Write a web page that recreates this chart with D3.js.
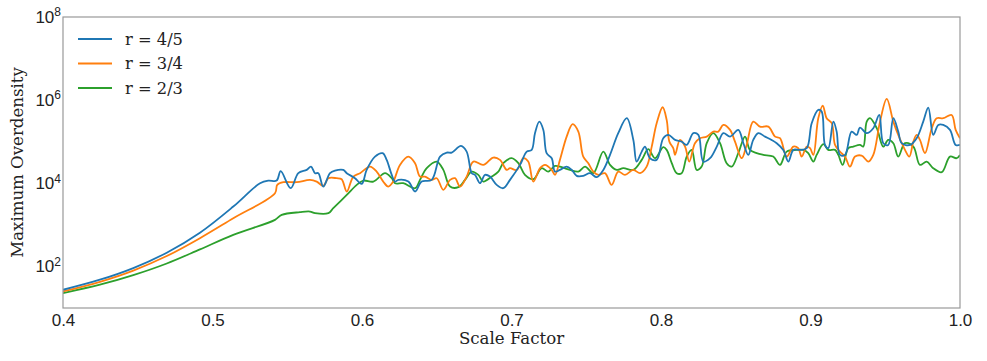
<!DOCTYPE html>
<html lang="en">
<head>
<meta charset="UTF-8" />
<title>Maximum Overdensity vs Scale Factor</title>
<script src="https://d3js.org/d3.v7.min.js"></script>
<style>
  body { margin: 0; background: #fff; }
  svg { font-family: "DejaVu Serif", serif; }
  .axis path { stroke: #999; }
  .axis text { font-size: 17px; fill: #222; }
  .line { fill: none; stroke-width: 1.8; }
  .legend text { font-size: 16.3px; fill: #222; }
</style>
</head>
<body>
<svg width="987" height="361"></svg>
<script>
// series labels and colours
const seriesNames = ["r = 4/5", "r = 3/4", "r = 2/3"];
const seriesColors = ["#1f77b4", "#ff7f0e", "#2ca02c"];

const xTicks = [0.4, 0.5, 0.6, 0.7, 0.8, 0.9, 1.0];
const yTicks = [1e2, 1e4, 1e6, 1e8];

// values: scale factor and log10(max overdensity)
const aBlue = [0.400,0.4247,0.447,0.4694,0.4916,0.5139,0.5318,0.5373,0.5429,0.5456,0.5523,0.5574,0.563,0.5659,0.5686,0.5708,0.5741,0.5786,0.5819,0.5875,0.5898,0.5953,0.5998,0.6031,0.6087,0.6138,0.6165,0.6199,0.6221,0.6243,0.631,0.6355,0.6399,0.6466,0.6522,0.6567,0.66,0.6662,0.67,0.6734,0.6756,0.6789,0.6823,0.6856,0.6901,0.6945,0.699,0.7057,0.7102,0.7135,0.7157,0.7186,0.7213,0.7235,0.7269,0.7291,0.7324,0.7369,0.7403,0.7436,0.748,0.7525,0.757,0.7614,0.7659,0.7714,0.7771,0.7815,0.7837,0.7871,0.7893,0.7926,0.7971,0.8015,0.8049,0.8094,0.8138,0.8172,0.8216,0.825,0.8283,0.8328,0.8373,0.8417,0.8462,0.8517,0.8551,0.8584,0.8617,0.8651,0.8696,0.874,0.8774,0.8818,0.8852,0.8885,0.893,0.8975,0.9008,0.9052,0.9075,0.9097,0.9119,0.9153,0.9175,0.9197,0.9231,0.9275,0.9309,0.9331,0.9376,0.942,0.946,0.9487,0.952,0.9554,0.9587,0.961,0.9666,0.971,0.9754,0.9788,0.9821,0.9855,0.9888,0.9933,0.9971,1.0];
const logBlue = [1.438,1.68,1.96,2.33,2.81,3.44,4.002,4.065,4.065,4.291,3.882,4.243,4.322,4.401,4.243,4.243,3.921,4.243,4.305,4.322,4.243,4.122,3.985,4.322,4.642,4.724,4.563,4.202,4.041,4.082,4.041,3.801,4.041,4.082,4.642,4.738,4.738,4.899,4.762,4.243,4.202,4.002,4.202,4.161,3.962,3.882,4.082,4.442,4.762,4.803,5.205,5.483,5.284,4.724,4.603,4.281,4.322,4.401,4.322,4.178,4.178,4.243,4.147,4.322,4.683,5.205,5.565,5.043,4.522,4.762,4.882,4.603,4.563,5.084,5.163,5.043,5.002,4.923,5.205,5.163,4.522,4.603,4.882,5.205,5.123,5.284,4.964,4.683,5.043,5.205,5.123,5.043,4.964,4.803,4.522,4.803,4.803,4.844,5.445,5.765,5.724,4.923,4.844,5.483,5.243,4.683,4.683,5.243,5.163,5.339,5.205,5.325,5.644,4.964,4.923,5.565,5.243,4.964,4.923,5.084,5.483,5.82,5.163,5.404,5.404,5.284,4.923,4.923];

const aOrange = [0.400,0.4247,0.447,0.4694,0.4916,0.5139,0.5418,0.5433,0.5474,0.5563,0.5652,0.5697,0.5741,0.5775,0.5831,0.5864,0.5898,0.5942,0.5987,0.6054,0.6098,0.6142,0.6176,0.6209,0.6254,0.631,0.6355,0.6388,0.6421,0.6466,0.65,0.6544,0.6589,0.6622,0.6656,0.67,0.6745,0.6811,0.6878,0.6923,0.6968,0.699,0.7035,0.7079,0.7112,0.7146,0.7191,0.7224,0.7269,0.7291,0.7324,0.7369,0.7409,0.7447,0.748,0.7514,0.7547,0.7581,0.7625,0.767,0.7714,0.7759,0.7815,0.786,0.7904,0.7938,0.7971,0.8011,0.8038,0.8056,0.8082,0.8094,0.8127,0.8161,0.8189,0.8227,0.8261,0.8306,0.835,0.8383,0.8417,0.8462,0.8495,0.854,0.8573,0.8617,0.8662,0.8718,0.8763,0.8796,0.8841,0.8885,0.8918,0.8941,0.8975,0.8997,0.9019,0.9052,0.9082,0.9108,0.9142,0.9164,0.9197,0.9231,0.9264,0.9298,0.9342,0.9387,0.942,0.9465,0.951,0.9554,0.9587,0.9632,0.9661,0.9688,0.971,0.9732,0.9766,0.9811,0.9844,0.9888,0.9944,0.9971,1.0];
const logOrange = [1.397,1.63,1.9,2.25,2.68,3.16,3.762,3.962,4.026,4.026,4.082,4.041,3.938,4.122,4.122,4.098,3.801,4.161,4.243,4.401,4.281,4.041,3.921,4.041,4.442,4.642,4.483,4.161,4.161,4.082,4.122,3.841,4.082,4.122,3.921,4.161,4.522,4.442,4.618,4.563,4.322,4.363,4.322,4.603,4.522,4.041,4.363,4.442,4.322,4.202,4.563,5.123,5.421,5.243,4.642,4.483,4.281,4.202,4.243,3.962,4.281,4.202,4.322,4.243,4.401,4.882,5.445,5.829,5.524,5.002,4.844,4.683,5.043,4.882,4.522,4.964,5.084,5.123,5.243,5.243,5.404,5.284,5.002,4.603,4.923,5.483,5.363,5.363,5.123,5.084,4.642,4.882,4.844,4.642,4.882,4.844,4.683,5.565,5.868,5.565,5.445,4.923,4.762,4.642,4.401,4.642,4.666,4.522,4.683,5.483,6.029,5.483,5.163,4.803,4.642,5.002,5.163,5.043,4.724,5.325,5.565,5.565,5.644,5.284,5.084];

const aGreen = [0.400,0.4247,0.447,0.4694,0.4916,0.5139,0.5418,0.5463,0.5585,0.5652,0.5686,0.5775,0.5808,0.5898,0.5965,0.6009,0.6076,0.6154,0.6199,0.6221,0.6276,0.6355,0.6388,0.6433,0.65,0.6544,0.6589,0.6644,0.6689,0.6734,0.6778,0.6811,0.6868,0.6912,0.6945,0.7001,0.7046,0.709,0.7146,0.7202,0.7246,0.7291,0.7336,0.7391,0.7447,0.7492,0.7547,0.7614,0.7659,0.7704,0.7748,0.7815,0.7871,0.7915,0.796,0.8015,0.8038,0.8072,0.8105,0.8138,0.8172,0.8205,0.8239,0.8272,0.8306,0.835,0.8395,0.8439,0.8473,0.8517,0.8562,0.8595,0.864,0.8684,0.8751,0.8796,0.8841,0.8908,0.8952,0.8985,0.9019,0.9041,0.9086,0.9119,0.9164,0.9186,0.9215,0.9253,0.9286,0.9331,0.9353,0.9376,0.9398,0.9443,0.9487,0.952,0.9554,0.9587,0.9632,0.9688,0.9732,0.9777,0.9821,0.9878,0.9933,0.9977,1.0];
const logGreen = [1.358,1.56,1.79,2.07,2.41,2.76,3.12,3.24,3.305,3.32,3.281,3.281,3.401,3.721,3.962,4.065,4.041,4.243,4.122,4.002,4.002,3.882,4.082,4.363,4.522,4.322,3.921,3.906,4.082,4.281,4.202,4.041,4.161,4.281,4.483,4.603,4.483,4.202,4.098,4.363,4.281,4.418,4.387,4.322,4.281,4.401,4.243,4.762,4.442,4.322,4.363,4.322,4.563,4.82,4.603,4.868,4.803,4.483,4.243,4.243,4.642,4.803,4.322,4.401,4.964,5.205,4.964,4.483,4.401,4.724,5.123,4.803,4.724,4.683,4.642,4.442,4.762,4.803,4.803,4.724,4.522,4.683,4.94,4.803,4.803,4.683,4.442,4.844,4.882,4.923,4.882,5.483,5.565,5.325,4.882,5.043,4.964,4.642,4.964,4.882,4.442,4.522,4.363,4.267,4.642,4.603,4.683];

const seriesA = [aBlue, aOrange, aGreen];
const seriesLog = [logBlue, logOrange, logGreen];

const svg = d3.select("svg");
const margin = { top: 17, right: 27, bottom: 53, left: 63 };
const width = 987 - margin.left - margin.right;
const height = 361 - margin.top - margin.bottom;

const g = svg.append("g").attr("transform", `translate(${margin.left},${margin.top})`);

const x = d3.scaleLinear().domain([0.4, 1.0]).range([0, width]);
const y = d3.scaleLog().domain([10, 1e8]).range([height, 0]);

// data table built from the arrays
const table = seriesNames.map((name, i) => ({
  name,
  color: seriesColors[i],
  points: seriesA[i].map((a, j) => ({ a, v: Math.pow(10, seriesLog[i][j]) }))
}));

g.append("defs").append("clipPath").attr("id", "clip")
  .append("rect").attr("width", width).attr("height", height);

const line = d3.line()
  .x(d => x(d.a))
  .y(d => y(d.v))
  .curve(d3.curveCatmullRom.alpha(0.5));

g.append("g").attr("clip-path", "url(#clip)")
  .selectAll("path")
  .data(table.slice().reverse())
  .join("path")
  .attr("class", "line")
  .attr("stroke", d => d.color)
  .attr("d", d => line(d.points));

// frame
g.append("rect")
  .attr("width", width).attr("height", height)
  .attr("fill", "none").attr("stroke", "#999").attr("stroke-width", 1.2);

// x axis
const xAxis = g.append("g").attr("class", "axis")
  .attr("transform", `translate(0,${height})`)
  .call(d3.axisBottom(x).tickValues(xTicks).tickSize(0).tickPadding(6).tickFormat(d3.format(".1f")));
xAxis.select(".domain").remove();

// y axis with superscript powers
const yAxis = g.append("g").attr("class", "axis")
  .call(d3.axisLeft(y).tickValues(yTicks).tickSize(0).tickPadding(2).tickFormat(""));
yAxis.select(".domain").remove();
yAxis.selectAll(".tick text").each(function (d) {
  const t = d3.select(this).attr("dy", "0.32em");
  const exp = Math.round(Math.log10(d));
  t.append("tspan").text("10");
  t.append("tspan").attr("dy", "-0.55em").attr("font-size", "12px").text(exp);
});

// axis titles
svg.append("text")
  .attr("x", margin.left + width / 2).attr("y", 344)
  .attr("text-anchor", "middle").attr("font-size", 16.6).attr("fill", "#222")
  .text("Scale Factor");
svg.append("text")
  .attr("transform", `translate(23,${margin.top + height / 2}) rotate(-90)`)
  .attr("text-anchor", "middle").attr("font-size", 16.6).attr("fill", "#222")
  .text("Maximum Overdensity");

// legend
const legend = svg.append("g").attr("class", "legend");
table.forEach((s, i) => {
  const ly = 39 + i * 24.5;
  legend.append("line")
    .attr("x1", 78).attr("x2", 112).attr("y1", ly).attr("y2", ly)
    .attr("stroke", s.color).attr("stroke-width", 1.8);
  legend.append("text")
    .attr("x", 125).attr("y", ly).attr("dy", "0.35em")
    .text(s.name);
});
</script>
</body>
</html>
